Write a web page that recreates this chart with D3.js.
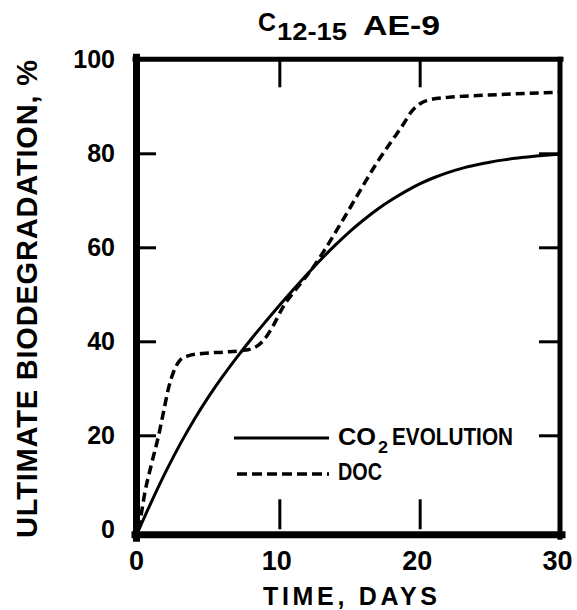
<!DOCTYPE html>
<html>
<head>
<meta charset="utf-8">
<script src="https://cdn.jsdelivr.net/npm/d3@7"></script>
<style>
  body { margin: 0; background: #fff; }
  #chart { width: 577px; height: 610px; }
  text { font-family: "Liberation Sans", Arial, sans-serif; font-weight: bold; fill: #000; }
</style>
</head>
<body>
<div id="chart"></div>
<script>
// values
const co2Days = [0, 1, 2, 3, 4, 5, 6, 7, 8, 9, 10, 11, 12, 13, 14, 15, 16, 17, 18, 19, 20, 21, 22, 23, 24, 25, 26, 27, 28, 29, 30];
const co2Values = [0, 6.6, 12.8, 18.5, 23.7, 28.4, 32.7, 36.7, 40.5, 44.1, 47.6, 51.0, 54.3, 57.5, 60.5, 63.3, 65.8, 68.1, 70.1, 71.9, 73.5, 74.8, 75.9, 76.8, 77.5, 78.1, 78.6, 79.0, 79.3, 79.6, 79.8];

const docDays = [0, 0.4, 0.9, 1.4, 1.75, 2.1, 2.45, 2.9, 3.5, 4.5, 6, 7.3, 8.2, 8.9, 9.5, 10.3, 11.3, 12.3, 13.2, 14.1, 15, 16, 17, 18, 18.8, 19.4, 20, 20.7, 22, 25, 30];
const docValues = [0, 7.5, 14, 20, 25, 30, 33.4, 35.9, 36.9, 37.4, 37.7, 38, 38.6, 40.3, 43, 47.5, 51.5, 55.3, 59.3, 63.7, 68.2, 73.3, 78.2, 82.6, 86, 88.8, 90.5, 91.4, 91.9, 92.4, 93];

const xTicks = [0, 10, 20, 30];
const yTicks = [0, 20, 40, 60, 80, 100];
const legendLabels = ["CO2 EVOLUTION", "DOC"];

class BiodegChart {

    constructor(parentElement){
        this.parentElement = parentElement
        this.series = [
            {name: "co2", points: co2Days.map((d, i) => ({day: d, value: co2Values[i]})), dash: null},
            {name: "doc", points: docDays.map((d, i) => ({day: d, value: docValues[i]})), dash: "9,5"}
        ]
        this.initVis()
    }

    initVis(){
        let vis = this

        vis.margin = {top: 59.3, right: 17, bottom: 80.7, left: 139};
        vis.width = 577 - vis.margin.left - vis.margin.right;
        vis.height = 610 - vis.margin.top - vis.margin.bottom;

        vis.root = d3.select("#" + vis.parentElement).append("svg")
            .attr("width", 577)
            .attr("height", 610);

        vis.svg = vis.root.append("g")
            .attr("transform", `translate(${vis.margin.left},${vis.margin.top})`);

        vis.xScale = d3.scaleLinear().domain([0, 30]).range([0, vis.width]);
        vis.yScale = d3.scaleLinear().domain([0, 100]).range([vis.height, 0]);

        vis.updateVis()
    }

    updateVis(){
        let vis = this
        const w = vis.width, h = vis.height

        // inner ticks + labels
        const left = vis.svg.append("g").attr("class", "axis y-axis")
            .call(d3.axisLeft(vis.yScale).tickValues(yTicks).tickSize(-17).tickPadding(24));
        const right = vis.svg.append("g").attr("transform", `translate(${w},0)`)
            .call(d3.axisRight(vis.yScale).tickValues([20, 40, 60, 80]).tickSize(-21).tickFormat(""));
        const bottom = vis.svg.append("g").attr("class", "axis x-axis")
            .attr("transform", `translate(0,${h})`)
            .call(d3.axisBottom(vis.xScale).tickValues(xTicks).tickSize(-30).tickPadding(21.5));
        const top = vis.svg.append("g")
            .call(d3.axisTop(vis.xScale).tickValues([10, 20]).tickSize(-28).tickFormat(""));

        [left, right, bottom, top].forEach(g => {
            g.select(".domain").remove();
            g.selectAll(".tick line").attr("stroke", "#000").attr("stroke-width", 3);
        });
        left.selectAll(".tick").filter(d => d === 0 || d === 100).select("line").remove();
        bottom.selectAll(".tick").filter(d => d === 0 || d === 30).select("line").remove();
        left.selectAll(".tick text").style("font-size", "25px");
        bottom.selectAll(".tick text").style("font-size", "27px").attr("dx", -3);

        // heavy frame, drawn on the outside of the data box
        const frame = vis.svg.append("g").attr("stroke", "#000").attr("stroke-linecap", "square");
        frame.append("line").attr("x1", -2.5).attr("x2", -2.5).attr("y1", -2).attr("y2", h + 9).attr("stroke-width", 7);
        frame.append("line").attr("x1", -4).attr("x2", w + 2).attr("y1", h + 5.5).attr("y2", h + 5.5).attr("stroke-width", 7);
        frame.append("line").attr("x1", -4).attr("x2", w + 1).attr("y1", 0).attr("y2", 0).attr("stroke-width", 5);
        frame.append("line").attr("x1", w).attr("x2", w).attr("y1", 0).attr("y2", h + 8).attr("stroke-width", 5);

        // curves
        const line = d3.line()
            .x(d => vis.xScale(d.day))
            .y(d => vis.yScale(d.value))
            .curve(d3.curveMonotoneX);

        vis.svg.selectAll(".curve").data(vis.series).join("path")
            .attr("class", "curve")
            .attr("d", d => line(d.points))
            .attr("fill", "none")
            .attr("stroke", "#000")
            .attr("stroke-width", d => d.dash ? 3.5 : 3)
            .attr("stroke-dasharray", d => d.dash);

        // legend
        const lg = vis.root.append("g");
        lg.append("line").attr("x1", 234).attr("x2", 329).attr("y1", 438).attr("y2", 438)
            .attr("stroke", "#000").attr("stroke-width", 3);
        lg.append("line").attr("x1", 237).attr("x2", 329).attr("y1", 474).attr("y2", 474)
            .attr("stroke", "#000").attr("stroke-width", 3.5).attr("stroke-dasharray", "10,5");
        const co = legendLabels[0].split(" ");
        lg.append("text").attr("x", 338).attr("y", 445).style("font-size", "23px")
            .attr("textLength", 38).attr("lengthAdjust", "spacingAndGlyphs").text(co[0].slice(0, 2));
        lg.append("text").attr("x", 378).attr("y", 453).style("font-size", "17px")
            .attr("textLength", 10).attr("lengthAdjust", "spacingAndGlyphs").text(co[0].slice(2));
        lg.append("text").attr("x", 392).attr("y", 445).style("font-size", "23px")
            .attr("textLength", 121).attr("lengthAdjust", "spacingAndGlyphs").text(co[1]);
        lg.append("text").attr("x", 338).attr("y", 480).style("font-size", "23px")
            .attr("textLength", 44).attr("lengthAdjust", "spacingAndGlyphs").text(legendLabels[1]);

        // title
        const t = vis.root.append("g");
        t.append("text").attr("x", 258).attr("y", 31).style("font-size", "25px").text("C");
        t.append("text").attr("x", 277).attr("y", 40).style("font-size", "24px")
            .attr("textLength", 70).attr("lengthAdjust", "spacingAndGlyphs").text("12-15");
        t.append("text").attr("x", 363).attr("y", 35).style("font-size", "27px")
            .attr("textLength", 77).attr("lengthAdjust", "spacingAndGlyphs").text("AE-9");

        // axis titles
        vis.root.append("text")
            .attr("x", 350).attr("y", 605)
            .attr("text-anchor", "middle")
            .style("font-size", "25px")
            .attr("textLength", 174).attr("lengthAdjust", "spacing")
            .text("TIME, DAYS");

        vis.root.append("text")
            .attr("transform", "translate(37,299) rotate(-90)")
            .attr("text-anchor", "middle")
            .style("font-size", "29px")
            .attr("textLength", 478).attr("lengthAdjust", "spacing")
            .text("ULTIMATE BIODEGRADATION, %");
    }
}

new BiodegChart("chart");
</script>
</body>
</html>
